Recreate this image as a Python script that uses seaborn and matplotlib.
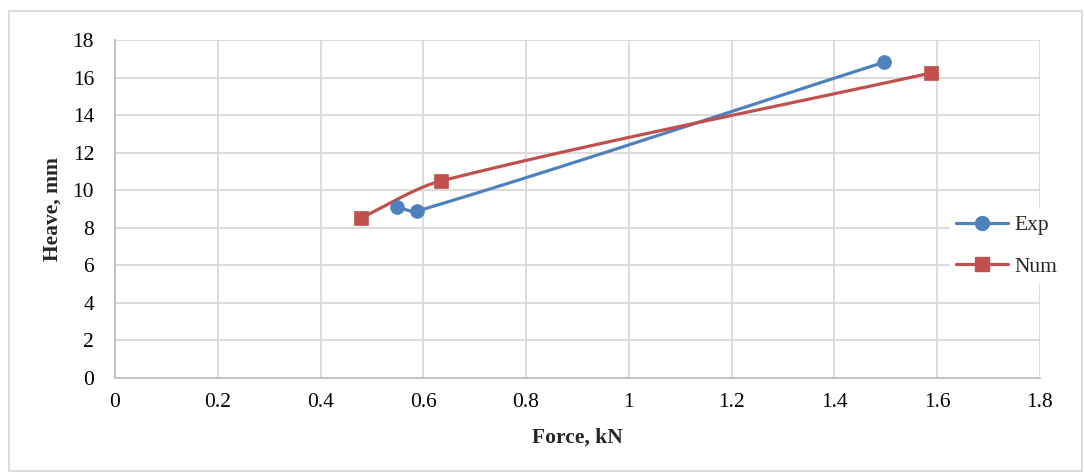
import numpy as np
import pandas as pd
import seaborn as sns
import matplotlib.pyplot as plt
from matplotlib.lines import Line2D
from matplotlib.patches import Rectangle
from matplotlib.ticker import MultipleLocator

exp_force = [0.548, 0.588, 1.497]
exp_heave = [9.12, 8.89, 16.82]
num_force = [0.479, 0.634, 1.587]
num_heave = [8.53, 10.49, 16.24]

BLUE = '#4F81BD'
RED = '#C0504D'


def smooth(xs, ys, sx=925 / 1.8, sy=338 / 18, n=40, k=0.3):
    # excel-like smoothed line, bezier with tangents from neighbours (pixel space)
    p = np.column_stack([np.asarray(xs) * sx, np.asarray(ys) * sy])
    m = len(p)
    tang = []
    for i in range(m):
        d = p[min(i + 1, m - 1)] - p[max(i - 1, 0)]
        tang.append(d / np.hypot(*d))
    t = np.linspace(0, 1, n)[:, None]
    out = []
    for i in range(m - 1):
        p1, p2 = p[i], p[i + 1]
        L = np.hypot(*(p2 - p1))
        c1 = p1 + tang[i] * L * k
        c2 = p2 - tang[i + 1] * L * k
        seg = (1 - t) ** 3 * p1 + 3 * (1 - t) ** 2 * t * c1 + 3 * (1 - t) * t ** 2 * c2 + t ** 3 * p2
        out.append(seg)
    out = np.vstack(out)
    return out[:, 0] / sx, out[:, 1] / sy


sns.set_style('white')
plt.rcParams['font.family'] = ['Liberation Serif', 'DejaVu Serif']

fig = plt.figure(figsize=(10.84, 4.72), dpi=100)
ax = fig.add_axes([115 / 1084, 1 - 378 / 472, (1040 - 115) / 1084, (378 - 40) / 472])

for fx, hy, col, mk, name in [(exp_force, exp_heave, BLUE, 'o', 'Exp'),
                              (num_force, num_heave, RED, 's', 'Num')]:
    cx, cy = smooth(fx, hy)
    sns.lineplot(x=cx, y=cy, ax=ax, color=col, linewidth=2.3, sort=False,
                 estimator=None, zorder=3)
    sns.scatterplot(x=fx, y=hy, ax=ax, color=col, marker=mk, s=100,
                    edgecolor=col, linewidth=0.5, zorder=4)

ax.set_xlim(0, 1.8)
ax.set_ylim(0, 18)
ax.xaxis.set_minor_locator(MultipleLocator(0.04))
ax.yaxis.set_minor_locator(MultipleLocator(0.4))
ax.set_xticks(np.arange(0, 1.81, 0.2))
ax.set_xticklabels(['0', '0.2', '0.4', '0.6', '0.8', '1', '1.2', '1.4', '1.6', '1.8'])
ax.set_yticks(np.arange(0, 19, 2))
ax.set_yticklabels([str(v) for v in range(0, 19, 2)])
ax.grid(True, which='major', color='#d9d9d9', linewidth=1.3, zorder=0)
ax.set_axisbelow(True)
ax.tick_params(which='major', length=0, labelsize=15.5, colors='black', pad=11)
ax.tick_params(axis='y', which='major', pad=15)
ax.tick_params(which='minor', direction='in', length=3.5, color='#bfbfbf', width=1)
for side in ['top', 'right']:
    ax.spines[side].set_visible(False)
for side in ['left', 'bottom']:
    ax.spines[side].set_color('#bfbfbf')
    ax.spines[side].set_linewidth(1.3)

ax.set_xlabel('Force, kN', fontsize=15.5, fontweight='bold', labelpad=11)
ax.set_ylabel('Heave, mm', fontsize=15.5, fontweight='bold', labelpad=7)

handles = [Line2D([], [], color=BLUE, lw=2.3, marker='o', markersize=10),
           Line2D([], [], color=RED, lw=2.3, marker='s', markersize=9.5)]
leg = fig.legend(handles, ['Exp', 'Num'], loc='center left',
                 bbox_to_anchor=(939 / 1084, 1 - 246 / 472), frameon=True,
                 fontsize=15.5, handlelength=2.4, labelspacing=1.0,
                 handletextpad=0.3, borderpad=0.3)
leg.get_frame().set_facecolor('white')
leg.get_frame().set_edgecolor('none')
leg.get_frame().set_alpha(1)

fig.patches.append(Rectangle((9 / 1084, 0.003), 1073 / 1084, 1 - 11 / 472 - 0.003,
                             transform=fig.transFigure, fill=False,
                             edgecolor='#d9d9d9', linewidth=1.3))

fig.savefig('out.png', dpi=100)
